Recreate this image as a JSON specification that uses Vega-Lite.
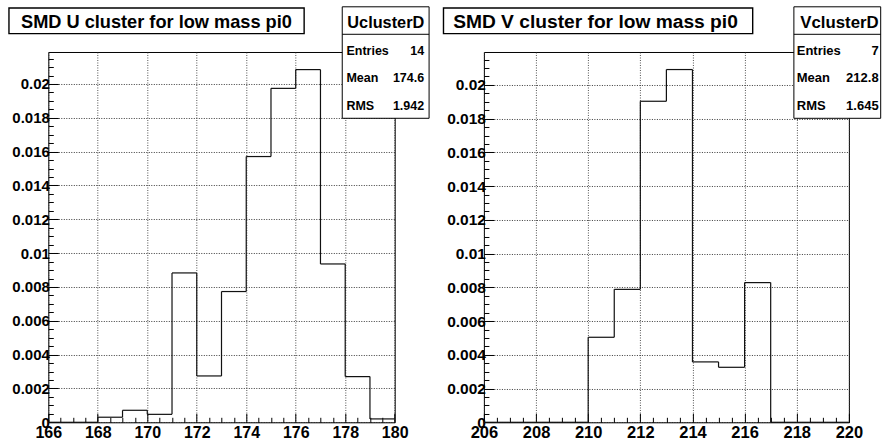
{
  "$schema": "https://vega.github.io/schema/vega-lite/v6.json",
  "padding": {"left": 7.3, "top": 5, "right": 0, "bottom": 0},
  "background": "white",
  "config": {"view": {"stroke": "black", "strokeWidth": 1}, "font": "Liberation Sans"},
  "datasets": {
    "u": [
      {"lo": 166, "hi": 167, "v": 0},
      {"lo": 167, "hi": 168, "v": 0},
      {"lo": 168, "hi": 169, "v": 0.0003},
      {"lo": 169, "hi": 170, "v": 0.00071},
      {"lo": 170, "hi": 171, "v": 0.00047},
      {"lo": 171, "hi": 172, "v": 0.00883},
      {"lo": 172, "hi": 173, "v": 0.00274},
      {"lo": 173, "hi": 174, "v": 0.00773},
      {"lo": 174, "hi": 175, "v": 0.01571},
      {"lo": 175, "hi": 176, "v": 0.01974},
      {"lo": 176, "hi": 177, "v": 0.02085},
      {"lo": 177, "hi": 178, "v": 0.00936},
      {"lo": 178, "hi": 179, "v": 0.0027},
      {"lo": 179, "hi": 180, "v": 0.0002}
    ],
    "v": [
      {"lo": 206, "hi": 207, "v": 0},
      {"lo": 207, "hi": 208, "v": 0},
      {"lo": 208, "hi": 209, "v": 0},
      {"lo": 209, "hi": 210, "v": 0},
      {"lo": 210, "hi": 211, "v": 0.00504},
      {"lo": 211, "hi": 212, "v": 0.00788},
      {"lo": 212, "hi": 213, "v": 0.01903},
      {"lo": 213, "hi": 214, "v": 0.02091},
      {"lo": 214, "hi": 215, "v": 0.00358},
      {"lo": 215, "hi": 216, "v": 0.00326},
      {"lo": 216, "hi": 217, "v": 0.00828},
      {"lo": 217, "hi": 218, "v": 0},
      {"lo": 218, "hi": 219, "v": 0},
      {"lo": 219, "hi": 220, "v": 0}
    ]
  },
  "bounds": "flush",
  "spacing": 88.6,
  "hconcat": [
    {
      "width": 346.4,
      "height": 370.3,
      "layer": [
        {
          "data": {"name": "u"},
          "mark": {"type": "rule", "stroke": "#111", "strokeWidth": 1.2},
          "encoding": {
            "x": {"field": "lo", "type": "quantitative",
              "scale": {"domain": [166, 180], "nice": false, "zero": false},
              "axis": {
                "title": null, "domain": false, "tickCount": 100,
                "values": [166,166.5,167,167.5,168,168.5,169,169.5,170,170.5,171,171.5,172,172.5,173,173.5,174,174.5,175,175.5,176,176.5,177,177.5,178,178.5,179,179.5,180],
                "labelExpr": "datum.value % 2 == 0 ? format(datum.value, 'd') : ''",
                "tickSize": -9,
                "tickDash": {"condition": {"test": "datum.value % 2 == 0", "value": [20, 0]}, "value": [5, 20]},
                "tickColor": "black", "tickWidth": 1,
                "grid": true, "gridColor": "#333", "gridDash": [1, 1.5],
                "gridOpacity": {"condition": {"test": "datum.value % 2 == 0", "value": 0.85}, "value": 0},
                "labelFont": "Liberation Sans", "labelFontWeight": "bold", "labelFontSize": 16, "labelColor": "black",
                "labelBaseline": "top", "labelPadding": 11.5, "labelFlush": false, "labelOverlap": false, "labelBound": false
              }},
            "x2": {"field": "hi"},
            "y": {"field": "v", "type": "quantitative",
              "scale": {"domain": [0, 0.02189], "nice": false},
              "axis": {
                "title": null, "domain": false, "tickCount": 100,
                "values": [0,0.0005,0.001,0.0015,0.002,0.0025,0.003,0.0035,0.004,0.0045,0.005,0.0055,0.006,0.0065,0.007,0.0075,0.008,0.0085,0.009,0.0095,0.01,0.0105,0.011,0.0115,0.012,0.0125,0.013,0.0135,0.014,0.0145,0.015,0.0155,0.016,0.0165,0.017,0.0175,0.018,0.0185,0.019,0.0195,0.02,0.0205,0.021,0.0215],
                "labelExpr": "abs(datum.value*500 - round(datum.value*500)) < 0.001 ? format(datum.value, '~g') : ''",
                "tickSize": -10,
                "tickDash": {"condition": {"test": "abs(datum.value*500 - round(datum.value*500)) < 0.001", "value": [20, 0]}, "value": [5, 20]},
                "tickColor": "black", "tickWidth": 1,
                "grid": true, "gridColor": "#222", "gridDash": [1, 1.5],
                "gridOpacity": {"condition": {"test": "abs(datum.value*500 - round(datum.value*500)) < 0.001", "value": 0.9}, "value": 0},
                "labelFont": "Liberation Sans", "labelFontWeight": "bold", "labelFontSize": 15, "labelColor": "black",
                "labelPadding": 9, "labelOverlap": false, "labelBound": false, "labelFlush": false
              }}
          }
        },
        {
          "data": {"name": "u"},
          "transform": [
            {"window": [{"op": "lag", "field": "v", "as": "prev"}], "sort": [{"field": "lo"}]},
            {"filter": "datum.prev != null"}
          ],
          "mark": {"type": "rule", "stroke": "#111", "strokeWidth": 1.2},
          "encoding": {
            "x": {"field": "lo", "type": "quantitative"},
            "y": {"field": "prev", "type": "quantitative"},
            "y2": {"field": "v"}
          }
        },
        {
          "data": {"values": [{}]},
          "mark": {"type": "rect", "fill": "white", "stroke": "black", "strokeWidth": 1.4, "clip": false},
          "encoding": {
            "x": {"datum": 164.41}, "x2": {"datum": 176.34},
            "y": {"datum": 0.024491}, "y2": {"datum": 0.022978}
          }
        },
        {
          "data": {"values": [{}]},
          "mark": {"type": "text", "text": "SMD U cluster for low mass pi0", "font": "Liberation Sans", "fontWeight": "bold", "fontSize": 18.2, "align": "center", "baseline": "alphabetic", "color": "black", "clip": false},
          "encoding": {"x": {"datum": 170.37}, "y": {"datum": 0.02331}}
        },
        {
          "data": {"values": [{}]},
          "mark": {"type": "rect", "fill": "white", "stroke": "black", "strokeWidth": 1, "clip": false},
          "encoding": {
            "x": {"datum": 177.88}, "x2": {"datum": 181.39},
            "y": {"datum": 0.024562}, "y2": {"datum": 0.017971}
          }
        },
        {
          "data": {"values": [{}]},
          "mark": {"type": "rule", "stroke": "black", "strokeWidth": 1, "clip": false},
          "encoding": {"x": {"datum": 177.88}, "x2": {"datum": 181.39}, "y": {"datum": 0.022937}}
        },
        {
          "data": {"values": [{}]},
          "mark": {"type": "text", "text": "UclusterD", "font": "Liberation Sans", "fontWeight": "bold", "fontSize": 16.3, "align": "center", "baseline": "alphabetic", "color": "black", "clip": false},
          "encoding": {"x": {"datum": 179.64}, "y": {"datum": 0.02331}}
        },
        {
          "data": {"values": [{}]},
          "mark": {"type": "text", "text": ["Entries", "Mean", "RMS"], "lineHeight": 27.5, "font": "Liberation Sans", "fontWeight": "bold", "fontSize": 12.5, "align": "left", "baseline": "alphabetic", "color": "black", "clip": false},
          "encoding": {"x": {"datum": 178.05}, "y": {"datum": 0.021736}}
        },
        {
          "data": {"values": [{}]},
          "mark": {"type": "text", "text": ["14", "174.6", "1.942"], "lineHeight": 27.5, "font": "Liberation Sans", "fontWeight": "bold", "fontSize": 12.5, "align": "right", "baseline": "alphabetic", "color": "black", "clip": false},
          "encoding": {"x": {"datum": 181.19}, "y": {"datum": 0.021736}}
        }
      ]
    },
    {
      "width": 365,
      "height": 370.3,
      "layer": [
        {
          "data": {"name": "v"},
          "mark": {"type": "rule", "stroke": "#111", "strokeWidth": 1.2},
          "encoding": {
            "x": {"field": "lo", "type": "quantitative",
              "scale": {"domain": [206, 220], "nice": false, "zero": false},
              "axis": {
                "title": null, "domain": false, "tickCount": 100,
                "values": [206,206.5,207,207.5,208,208.5,209,209.5,210,210.5,211,211.5,212,212.5,213,213.5,214,214.5,215,215.5,216,216.5,217,217.5,218,218.5,219,219.5,220],
                "labelExpr": "datum.value % 2 == 0 ? format(datum.value, 'd') : ''",
                "tickSize": -9,
                "tickDash": {"condition": {"test": "datum.value % 2 == 0", "value": [20, 0]}, "value": [5, 20]},
                "tickColor": "black", "tickWidth": 1,
                "grid": true, "gridColor": "#333", "gridDash": [1, 1.5],
                "gridOpacity": {"condition": {"test": "datum.value % 2 == 0", "value": 0.85}, "value": 0},
                "labelFont": "Liberation Sans", "labelFontWeight": "bold", "labelFontSize": 16.5, "labelColor": "black",
                "labelBaseline": "top", "labelPadding": 11.5, "labelFlush": false, "labelOverlap": false, "labelBound": false
              }},
            "x2": {"field": "hi"},
            "y": {"field": "v", "type": "quantitative",
              "scale": {"domain": [0, 0.02195], "nice": false},
              "axis": {
                "title": null, "domain": false, "tickCount": 100,
                "values": [0,0.0005,0.001,0.0015,0.002,0.0025,0.003,0.0035,0.004,0.0045,0.005,0.0055,0.006,0.0065,0.007,0.0075,0.008,0.0085,0.009,0.0095,0.01,0.0105,0.011,0.0115,0.012,0.0125,0.013,0.0135,0.014,0.0145,0.015,0.0155,0.016,0.0165,0.017,0.0175,0.018,0.0185,0.019,0.0195,0.02,0.0205,0.021,0.0215],
                "labelExpr": "abs(datum.value*500 - round(datum.value*500)) < 0.001 ? format(datum.value, '~g') : ''",
                "tickSize": -10,
                "tickDash": {"condition": {"test": "abs(datum.value*500 - round(datum.value*500)) < 0.001", "value": [20, 0]}, "value": [5, 20]},
                "tickColor": "black", "tickWidth": 1,
                "grid": true, "gridColor": "#222", "gridDash": [1, 1.5],
                "gridOpacity": {"condition": {"test": "abs(datum.value*500 - round(datum.value*500)) < 0.001", "value": 0.9}, "value": 0},
                "labelFont": "Liberation Sans", "labelFontWeight": "bold", "labelFontSize": 15.5, "labelColor": "black",
                "labelPadding": 8.5, "labelOverlap": false, "labelBound": false, "labelFlush": false
              }}
          }
        },
        {
          "data": {"name": "v"},
          "transform": [
            {"window": [{"op": "lag", "field": "v", "as": "prev"}], "sort": [{"field": "lo"}]},
            {"filter": "datum.prev != null"}
          ],
          "mark": {"type": "rule", "stroke": "#111", "strokeWidth": 1.2},
          "encoding": {
            "x": {"field": "lo", "type": "quantitative"},
            "y": {"field": "prev", "type": "quantitative"},
            "y2": {"field": "v"}
          }
        },
        {
          "data": {"values": [{}]},
          "mark": {"type": "rect", "fill": "white", "stroke": "black", "strokeWidth": 1.4, "clip": false},
          "encoding": {
            "x": {"datum": 204.45}, "x2": {"datum": 216.31},
            "y": {"datum": 0.024558}, "y2": {"datum": 0.023041}
          }
        },
        {
          "data": {"values": [{}]},
          "mark": {"type": "text", "text": "SMD V cluster for low mass pi0", "font": "Liberation Sans", "fontWeight": "bold", "fontSize": 19.2, "align": "center", "baseline": "alphabetic", "color": "black", "clip": false},
          "encoding": {"x": {"datum": 210.28}, "y": {"datum": 0.023373}}
        },
        {
          "data": {"values": [{}]},
          "mark": {"type": "rect", "fill": "white", "stroke": "black", "strokeWidth": 1, "clip": false},
          "encoding": {
            "x": {"datum": 217.89}, "x2": {"datum": 221.22},
            "y": {"datum": 0.024629}, "y2": {"datum": 0.01802}
          }
        },
        {
          "data": {"values": [{}]},
          "mark": {"type": "rule", "stroke": "black", "strokeWidth": 1, "clip": false},
          "encoding": {"x": {"datum": 217.89}, "x2": {"datum": 221.22}, "y": {"datum": 0.022999}}
        },
        {
          "data": {"values": [{}]},
          "mark": {"type": "text", "text": "VclusterD", "font": "Liberation Sans", "fontWeight": "bold", "fontSize": 16.8, "align": "center", "baseline": "alphabetic", "color": "black", "clip": false},
          "encoding": {"x": {"datum": 219.64}, "y": {"datum": 0.023373}}
        },
        {
          "data": {"values": [{}]},
          "mark": {"type": "text", "text": ["Entries", "Mean", "RMS"], "lineHeight": 27.5, "font": "Liberation Sans", "fontWeight": "bold", "fontSize": 13, "align": "left", "baseline": "alphabetic", "color": "black", "clip": false},
          "encoding": {"x": {"datum": 218.0}, "y": {"datum": 0.021796}}
        },
        {
          "data": {"values": [{}]},
          "mark": {"type": "text", "text": ["7", "212.8", "1.645"], "lineHeight": 27.5, "font": "Liberation Sans", "fontWeight": "bold", "fontSize": 13, "align": "right", "baseline": "alphabetic", "color": "black", "clip": false},
          "encoding": {"x": {"datum": 221.14}, "y": {"datum": 0.021796}}
        }
      ]
    }
  ]
}
